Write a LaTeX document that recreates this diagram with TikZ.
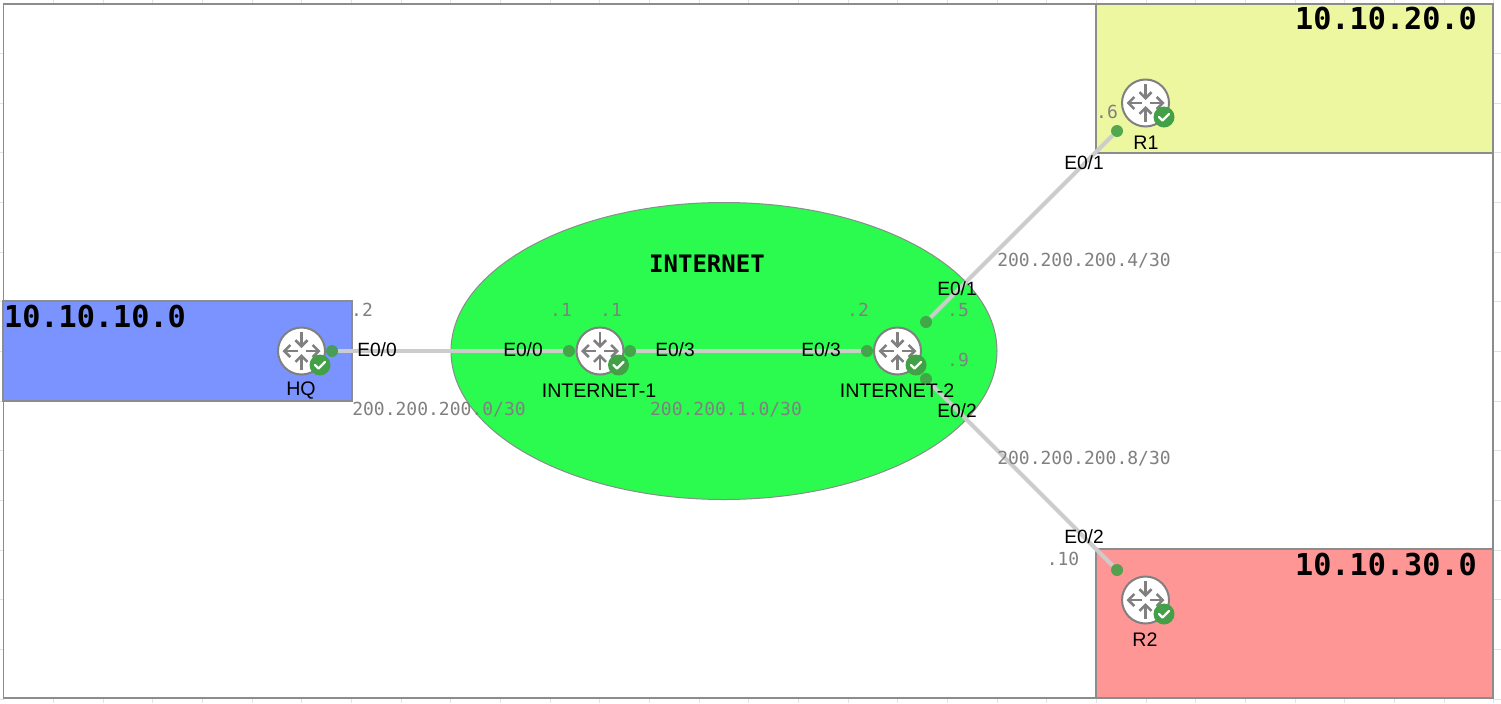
\documentclass[tikz,border=0pt]{standalone}
\usepackage{fontspec}
\setmainfont{Liberation Sans}
\setmonofont{DejaVu Sans Mono}
\usetikzlibrary{arrows.meta,shapes.geometric}
\definecolor{framegray}{HTML}{8C8C8C}
\definecolor{tickgray}{HTML}{E2E2E2}
\definecolor{linkgray}{HTML}{CCCCCC}
\definecolor{textgray}{HTML}{808080}
\definecolor{iconring}{HTML}{808080}
\definecolor{okgreen}{HTML}{43A047}
\definecolor{areablue}{HTML}{7B93FF}
\definecolor{areayellow}{HTML}{ECF79F}
\definecolor{areared}{HTML}{FF9696}
\definecolor{inetgreen}{HTML}{2BFB4F}
\tikzset{
  x=0.5pt,y=-0.5pt,
  area/.style={draw=framegray,line width=0.6pt,outer sep=0pt,inner sep=0pt},
  link/.style={draw=linkgray,line width=2pt},
  port/.style={circle,fill=okgreen,draw=none,fill opacity=0.9,minimum size=6pt,inner sep=0pt},
  routerbody/.style={circle,fill=white,draw=iconring,line width=1pt,minimum size=23.5pt,inner sep=0pt},
  okbadge/.style={circle,fill=okgreen,draw=none,minimum size=10.5pt,inner sep=0pt},
  devlabel/.style={font=\fontsize{9.8}{11}\selectfont,text=black},
  iflabel/.style={font=\fontsize{9.6}{11}\selectfont,text=black},
  addr/.style={font=\ttfamily\fontsize{9}{11}\selectfont,text=textgray},
  zonelabel/.style={font=\ttfamily\bfseries\fontsize{15.1}{18}\selectfont,text=black},
  inetlabel/.style={font=\ttfamily\bfseries\fontsize{12}{14}\selectfont,text=black},
  glyph/.style={draw=iconring,line width=1.4pt,-{Straight Barb[length=3pt,width=6pt,line width=1.3pt]}},
  tick/.style={draw=tickgray,line width=0.4pt}
}
\newcommand{\routericon}[3]{% name, x, y
  \node[routerbody] (#1) at (#2,#3) {};
  \draw[glyph] (#2,#3-19) -- (#2,#3-3);
  \draw[glyph] (#2,#3+19) -- (#2,#3+3);
  \draw[glyph] (#2-4,#3) -- (#2-19,#3);
  \draw[glyph] (#2+4,#3) -- (#2+19,#3);
  \node[okbadge] (#1ok) at (#2+18.5,#3+14) {};
  \draw[white,line width=1.2pt,line cap=round,line join=round] (#2+13.5,#3+14) -- (#2+17,#3+17.5) -- (#2+23.5,#3+11);
}
\begin{document}
\begin{tikzpicture}
\useasboundingbox (0,0) rectangle (1501,703);
\fill[white] (0,0) rectangle (1501,703);
% faint sheet grid ticks
\foreach \k in {0,...,29} {
  \draw[tick] ({53.3+49.67*\k},0) -- ({53.3+49.67*\k},4);
  \draw[tick] ({53.3+49.67*\k},698) -- ({53.3+49.67*\k},703);
}
\foreach \k in {0,...,13} {
  \draw[tick] (0,{53.3+49.67*\k}) -- (4,{53.3+49.67*\k});
  \draw[tick] (1493,{53.3+49.67*\k}) -- (1501,{53.3+49.67*\k});
}
% frame and areas
\node[area,line width=0.9pt,minimum width=744.75pt,minimum height=347pt,anchor=north west] (frame) at (3.5,4) {};
\node[area,fill=areablue,minimum width=174.5pt,minimum height=50pt,anchor=north west] (zoneA) at (3,301) {};
\node[area,fill=areayellow,minimum width=198.5pt,minimum height=74.5pt,anchor=north west] (zoneB) at (1096,4) {};
\node[area,fill=areared,minimum width=198.5pt,minimum height=74.5pt,anchor=north west] (zoneC) at (1096,549) {};
\node[area,fill=inetgreen,ellipse,line width=0.5pt,minimum width=273pt,minimum height=148.5pt] (inet) at (724,351) {};
% ports
\node[port] (pHQ) at (332,351) {};
\node[port] (pI1w) at (569,351) {};
\node[port] (pI1e) at (630,351) {};
\node[port] (pI2w) at (867,351) {};
\node[port] (pI2n) at (926,322) {};
\node[port] (pI2s) at (926,379) {};
\node[port] (pR1) at (1117,131) {};
\node[port] (pR2) at (1117,570) {};
% links
\draw[link] (pHQ) -- (pI1w);
\draw[link] (pI1e) -- (pI2w);
\draw[link] (pI2n) -- (pR1);
\draw[link] (pI2s) -- (pR2);
% routers
\routericon{hq}{301.5}{351}
\routericon{ione}{600}{351}
\routericon{itwo}{897.5}{351}
\routericon{rone}{1145.5}{103}
\routericon{rtwo}{1145.5}{600}
% device labels
\node[devlabel] (lHQ) at (301,391) {HQ};
\node[devlabel] (lI1) at (599,391) {INTERNET-1};
\node[devlabel] (lI2) at (897,391) {INTERNET-2};
\node[devlabel] (lR1) at (1146,143) {R1};
\node[devlabel] (lR2) at (1145,640) {R2};
% interface labels
\node[iflabel] (e1) at (377,350) {E0/0};
\node[iflabel] (e2) at (523,350) {E0/0};
\node[iflabel] (e3) at (675,350) {E0/3};
\node[iflabel] (e4) at (821,350) {E0/3};
\node[iflabel] (e5) at (957,289) {E0/1};
\node[iflabel] (e6) at (1084,163) {E0/1};
\node[iflabel] (e7) at (957,411) {E0/2};
\node[iflabel] (e8) at (1084,537) {E0/2};
% host parts
\node[addr] (a1) at (362,310) {.2};
\node[addr] (a2) at (561,310) {.1};
\node[addr] (a3) at (611,310) {.1};
\node[addr] (a4) at (858,310) {.2};
\node[addr] (a5) at (958,310) {.5};
\node[addr] (a6) at (958,360) {.9};
\node[addr] (a7) at (1107,112) {.6};
\node[addr] (a8) at (1063,559) {.10};
% networks
\node[addr] (n1) at (439,410) {200.200.200.0/30};
\node[addr] (n2) at (726,410) {200.200.1.0/30};
\node[addr] (n3) at (1084,261) {200.200.200.4/30};
\node[addr] (n4) at (1084,459) {200.200.200.8/30};
% zones
\node[zonelabel] (z1) at (95,316) {10.10.10.0};
\node[zonelabel] (z2) at (1386,18) {10.10.20.0};
\node[zonelabel] (z3) at (1386,564) {10.10.30.0};
\node[inetlabel] (z4) at (707,264) {INTERNET};
\end{tikzpicture}
\end{document}
